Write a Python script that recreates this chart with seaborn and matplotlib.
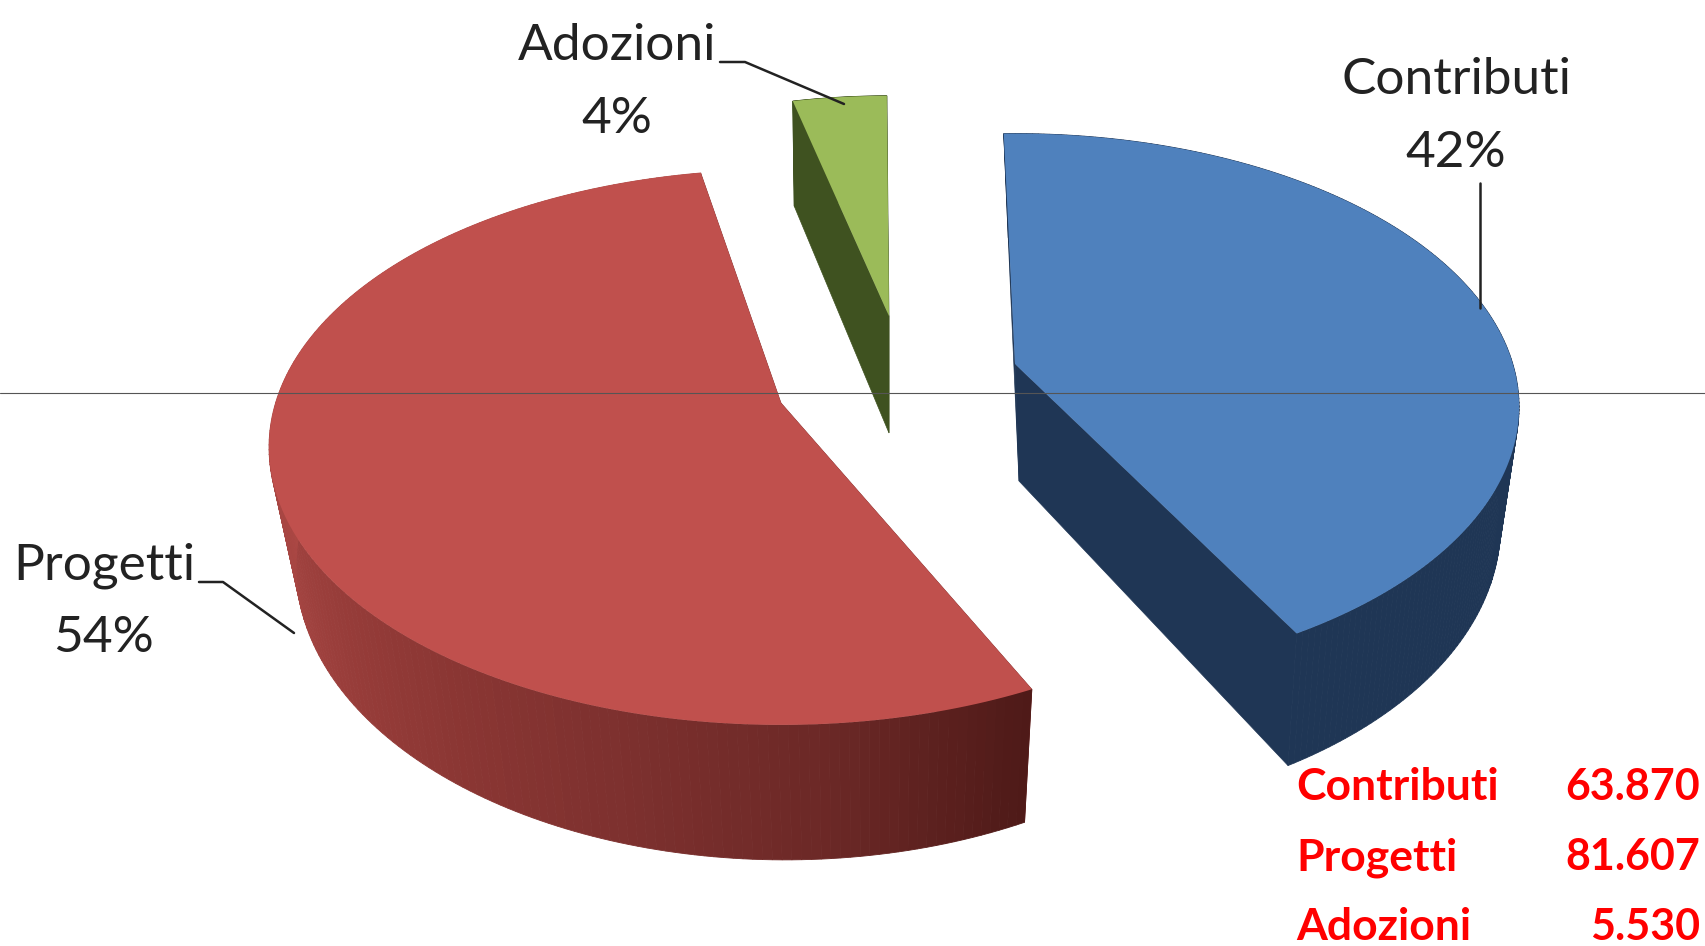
import numpy as np
import matplotlib
matplotlib.use("Agg")
import matplotlib.pyplot as plt
import seaborn as sns

categories = ["Contributi", "Progetti", "Adozioni"]
values = [63870, 81607, 5530]

top_colors = ["#4f81bd", "#c0504d", "#9bbb59"]
wall_colors = ["#1f3655", "#8a3331", "#3f5220"]

sns.set_theme(style="white")
plt.rcParams['font.family'] = ['Lato', 'DejaVu Sans']

W, H = 1706, 946
fig = plt.figure(figsize=(W / 100, H / 100), dpi=100)
ax = fig.add_axes([0, 0, 1, 1])
ax.set_xlim(0, W)
ax.set_ylim(H, 0)
ax.axis("off")

# layout per slice: apex on screen, radius factor, angular twist (deg), wall shift
apex = {"Contributi": (1015, 364), "Progetti": (781, 403), "Adozioni": (889, 316)}
radius = {"Contributi": 0.98, "Progetti": 0.995, "Adozioni": 0.93}
twist = {"Contributi": -1.5, "Progetti": 2.6, "Adozioni": -0.3}
shift = {"Contributi": 4, "Progetti": 4, "Adozioni": 0}
A, B, P, D0 = 508, 272, 0.16, 117
START = 0.0


def project(theta, cat, bottom=False):
    """theta in degrees clockwise from the top of the pie -> screen position."""
    t = np.radians(theta)
    r = radius[cat]
    X, Y = r * np.sin(t), r * np.cos(t)
    s = 1 / (1 + P * Y)
    ax0, ay0 = apex[cat]
    if not bottom:
        return ax0 + A * X * s, ay0 - B * Y * s
    return (ax0 + shift[cat] + 0.955 * A * X * s if cat != "Adozioni" else ax0 + A * X * s * 0.985,
            ay0 - B * Y * s + D0 * (1 - 0.13 * Y * s))


total = sum(values)
spans = [v / total * 360 for v in values]
starts = np.cumsum([START] + spans[:-1])
red_shades = sns.blend_palette(["#4f1a18", "#6b2826", "#7c302e", "#8a3633", "#983d3a",
                                "#a54542", "#ae4945", "#b04a46", "#b04a46", "#b04a46", "#b04a46"], 200)

order = [2, 1, 0]
for i in order:
    cat = categories[i]
    th = np.linspace(starts[i], starts[i] + spans[i], 200) + twist[cat]
    tx, ty = project(th, cat)
    bx, by = project(th, cat, bottom=True)
    ax0, ay0 = apex[cat]
    bax0, bay0 = ax0 + shift[cat], ay0 + D0

    # cut walls
    for k in (0, -1):
        ax.fill([ax0, tx[k], bx[k], bax0], [ay0, ty[k], by[k], bay0],
                color=wall_colors[i], lw=0.5, zorder=2 + (2 - i))
    # outer wall
    for j in range(len(th) - 1):
        c = red_shades[j] if cat == "Progetti" else wall_colors[i]
        ax.fill([tx[j], tx[j + 1], bx[j + 1], bx[j]],
                [ty[j], ty[j + 1], by[j + 1], by[j]],
                color=c, lw=0.6, zorder=2 + (2 - i))
    # top face
    ax.fill(np.r_[ax0, tx], np.r_[ay0, ty], color=top_colors[i], lw=0, zorder=3 + (2 - i))

# horizontal rule crossing the picture
ax.plot([0, W], [393, 393], color="#555555", lw=0.8, zorder=10)

# data labels
label_pos = {"Contributi": (1456, 94, 167), "Adozioni": (617, 60, 133), "Progetti": (104, 579, 652)}
for cat, v in zip(categories, values):
    x, y1, y2 = label_pos[cat]
    ax.text(x, y1, cat, ha="center", va="baseline", fontsize=37, color="#222222", zorder=11)
    ax.text(x, y2, f"{v / total * 100:.0f}%", ha="center", va="baseline", fontsize=37,
            color="#222222", zorder=11)

# leader lines
ax.plot([1480, 1480], [183, 308], color="#222222", lw=1.8, zorder=11)
ax.plot([720, 745, 844], [62, 62, 104], color="#222222", lw=1.8, zorder=11)
ax.plot([199, 223, 294], [582, 582, 633], color="#222222", lw=1.8, zorder=11)

# red summary table
for cat, v, y in zip(categories, values, [800, 870, 940]):
    ax.text(1296, y, cat, ha="left", va="baseline", fontsize=32, fontweight="bold", color="#ff0000", zorder=11)
    ax.text(1700, y, f"{v:,}".replace(",", "."), ha="right", va="baseline", fontsize=31,
            fontweight="bold", color="#ff0000", zorder=11)

fig.savefig("out.png", dpi=100)
